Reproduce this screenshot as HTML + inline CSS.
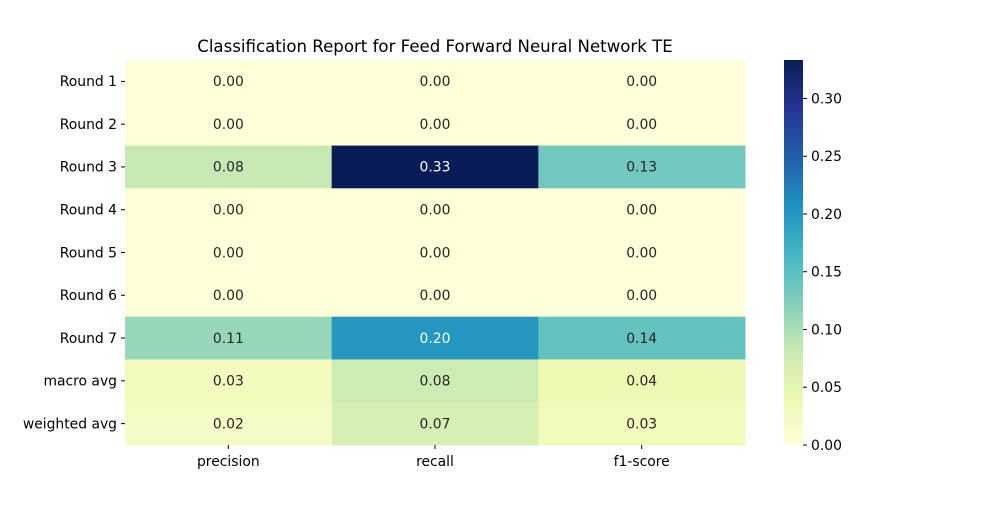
<!DOCTYPE html>
<html><head><meta charset="utf-8"><style>
body{margin:0;background:#fff;font-family:"Liberation Sans","DejaVu Sans",sans-serif}
text{font-family:"DejaVu Sans","Liberation Sans",sans-serif}
</style></head><body>
<svg id="chart" width="1000" height="500" xmlns="http://www.w3.org/2000/svg">
<defs><linearGradient id="cbg" x1="0" y1="1" x2="0" y2="0"></linearGradient></defs>
<text x="435" y="52" text-anchor="middle" font-size="16.6">Classification Report for Feed Forward Neural Network TE</text>
<g id="cells"></g><g id="ylab"></g><g id="xlab"></g><g id="cbar"></g>
</svg>
<script>
const rows=["Round 1","Round 2","Round 3","Round 4","Round 5","Round 6","Round 7","macro avg","weighted avg"];
const cols=["precision","recall","f1-score"];
const precision=[0,0,0.0833,0,0,0,0.111,0.0278,0.0222];
const recall=[0,0,0.3333,0,0,0,0.2,0.0762,0.0667];
const f1=[0,0,0.1333,0,0,0,0.1429,0.0395,0.0314];
const cbTicks=[0,0.05,0.10,0.15,0.20,0.25,0.30];
const vmax=0.3333;
const stops=["#ffffd9","#edf8b1","#c7e9b4","#7fcdbb","#41b6c4","#1d91c0","#225ea8","#253494","#081d58"];
const NS="http://www.w3.org/2000/svg";
const X0=125,X1=745,Y0=60,Y1=445;
const FS=13.9;
const cw=(X1-X0)/cols.length,rh=(Y1-Y0)/rows.length;
function hex(h){return [1,3,5].map(i=>parseInt(h.substr(i,2),16));}
function mix(v){let t=Math.max(0,Math.min(1,v/vmax))*(stops.length-1);let i=Math.min(Math.floor(t),stops.length-2),f=t-i;
 const a=hex(stops[i]),b=hex(stops[i+1]);return a.map((c,k)=>c+(b[k]-c)*f);}
function cmap(v){return "rgb("+mix(v).map(Math.round).join(",")+")";}
function lum(v){const c=mix(v);return (0.299*c[0]+0.587*c[1]+0.114*c[2])/255;}
function el(t,attrs,p){const e=document.createElementNS(NS,t);for(const k in attrs)e.setAttribute(k,attrs[k]);p.appendChild(e);return e;}
const series=[precision,recall,f1];
const cells=document.getElementById('cells');
series.forEach((s,j)=>s.forEach((v,i)=>{
 const r=el('rect',{x:X0+j*cw,y:Y0+i*rh,width:cw+0.5,height:rh+0.5,fill:cmap(v)},cells);
 
 
 const t=el('text',{x:X0+(j+0.5)*cw,y:Y0+(i+0.5)*rh+4.8,'text-anchor':'middle','font-size':FS,fill:lum(v)<0.5?'#fff':'#262626'},cells);
 t.textContent=v.toFixed(2);
 
 
}));
const yl=document.getElementById('ylab');
rows.forEach((r,i)=>{const y=Y0+(i+0.5)*rh;
 el('line',{x1:X0-4,x2:X0,y1:y,y2:y,stroke:'#000'},yl);
 const t=el('text',{x:X0-8,y:y+4.8,'text-anchor':'end','font-size':FS},yl);t.textContent=r;
 
 });
const xl=document.getElementById('xlab');
cols.forEach((c,j)=>{const x=X0+(j+0.5)*cw;
 el('line',{x1:x,x2:x,y1:Y1,y2:Y1+4,stroke:'#000'},xl);
 const t=el('text',{x:x,y:Y1+21,'text-anchor':'middle','font-size':FS},xl);t.textContent=c;
 
 });
const g=document.getElementById('cbg');
stops.forEach((s,i)=>el('stop',{offset:i/(stops.length-1),'stop-color':s},g));
const cb=document.getElementById('cbar');const CX=784,CW=19;
const cr=el('rect',{x:CX,y:Y0,width:CW,height:Y1-Y0,fill:'url(#cbg)'},cb);


cbTicks.forEach(v=>{const y=Y1-(v/vmax)*(Y1-Y0);
 el('line',{x1:CX+CW,x2:CX+CW+4,y1:y,y2:y,stroke:'#000'},cb);
 const t=el('text',{x:CX+CW+8,y:y+4.8,'font-size':FS},cb);t.textContent=v.toFixed(2);
 
 });
</script>
</body></html>
